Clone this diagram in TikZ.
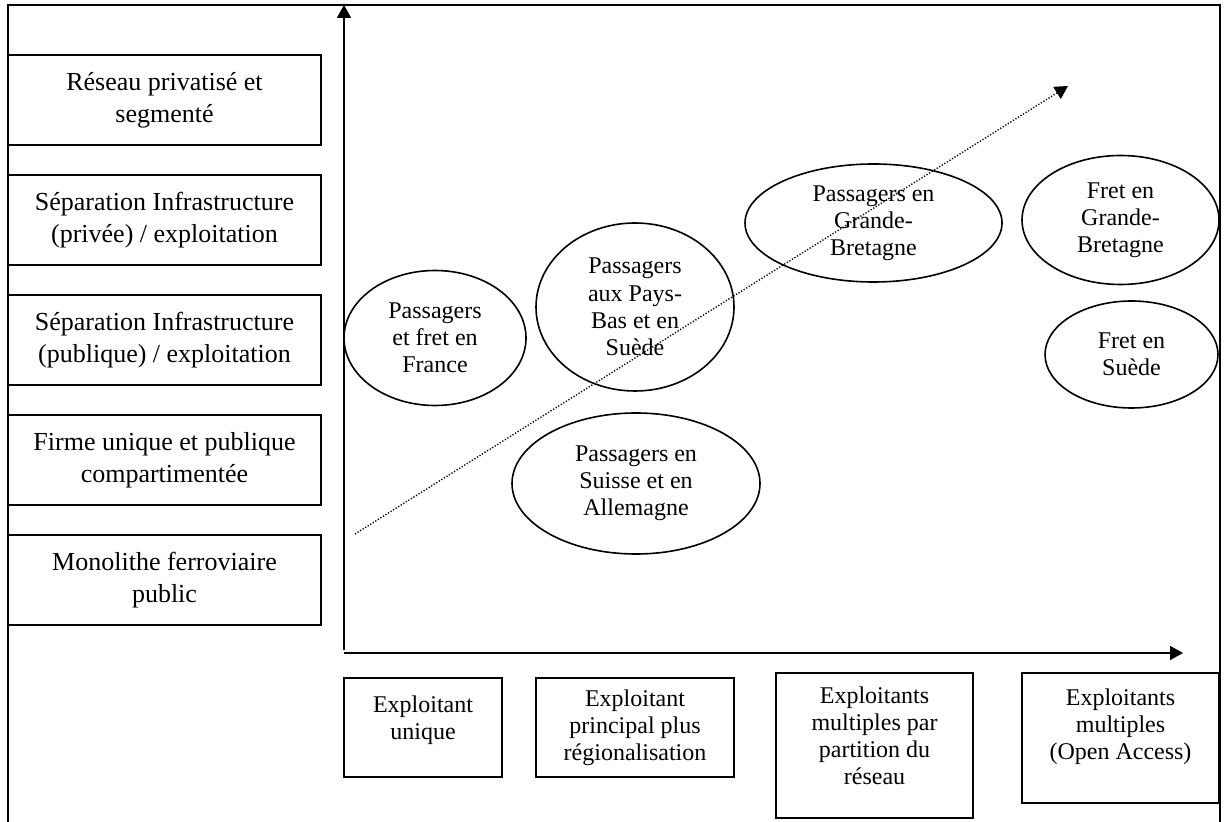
\documentclass[tikz,border=0pt]{standalone}
\usepackage{fontspec}
\setmainfont{Liberation Serif}
\usetikzlibrary{arrows.meta,shapes.geometric}
\begin{document}
\begin{tikzpicture}[x=0.5pt,y=-0.5pt,
    every node/.style={font=\fontsize{12}{13.6}\selectfont,align=center},
    levelbox/.style={draw,line width=0.8pt,minimum width=156.5pt,minimum height=45pt,inner sep=2pt,font=\fontsize{13}{16}\selectfont},
    opbox/.style={draw,line width=0.8pt,inner sep=2pt},
    case/.style={draw,ellipse,line width=0.8pt,inner sep=0pt},
    axis/.style={line width=0.8pt,-{Triangle[length=6.5pt,width=7pt]}}]
\useasboundingbox (0,0) rectangle (1224,822);
\draw[line width=0.8pt] (8,822) -- (8,5) -- (1220,5) -- (1220,822);
\node[levelbox] (prive) at (164.5,100) {Réseau privatisé et\\segmenté};
\node[levelbox] (sepprive) at (164.5,220) {Séparation Infrastructure\\(privée) / exploitation};
\node[levelbox] (seppub) at (164.5,340) {Séparation Infrastructure\\(publique) / exploitation};
\node[levelbox] (firme) at (164.5,460) {Firme unique et publique\\compartimentée};
\node[levelbox] (mono) at (164.5,580) {Monolithe ferroviaire\\public};
\coordinate (ybot) at (344,650);
\coordinate (ytop) at (344,5);
\coordinate (xleft) at (344,653);
\coordinate (xright) at (1183,653);
\draw[axis] (ybot) -- (ytop);
\draw[axis] (xleft) -- (xright);
\node[opbox,minimum width=79pt,minimum height=49.5pt,text depth=10pt] (unique) at (423,727.5) {Exploitant\\unique};
\node[opbox,minimum width=99pt,minimum height=49.5pt] (region) at (635,727.5) {Exploitant\\principal plus\\régionalisation};
\node[opbox,minimum width=98.5pt,minimum height=72.5pt,text depth=10pt] (partition) at (874.5,745.5) {Exploitants\\multiples par\\partition du\\réseau};
\node[opbox,minimum width=98.5pt,minimum height=65pt,text depth=14pt] (open) at (1120.5,738) {Exploitants\\multiples\\(Open Access)};
\coordinate (trendstart) at (355,534);
\coordinate (trendend) at (1068,86);
\draw[line width=0.7pt,dash pattern=on 0.6pt off 0.9pt,-{Triangle[length=6.5pt,width=7pt]}] (trendstart) -- (trendend);
\node[case,minimum width=91pt,minimum height=67.5pt] (france) at (435,338) {Passagers\\et fret en\\France};
\node[case,minimum width=99pt,minimum height=84pt] (paysbas) at (635,307) {Passagers\\aux Pays-\\Bas et en\\Suède};
\node[case,minimum width=124pt,minimum height=70.5pt] (suisse) at (636,483.5) {Passagers en\\Suisse et en\\Allemagne};
\node[case,minimum width=128.5pt,minimum height=59pt] (gbpass) at (873.5,223) {Passagers en\\Grande-\\Bretagne};
\node[case,minimum width=98.5pt,minimum height=64.5pt] (gbfret) at (1120.5,220) {Fret en\\Grande-\\Bretagne};
\node[case,minimum width=86.5pt,minimum height=53.5pt] (suedefret) at (1131.5,354.5) {Fret en\\Suède};
\end{tikzpicture}
\end{document}
